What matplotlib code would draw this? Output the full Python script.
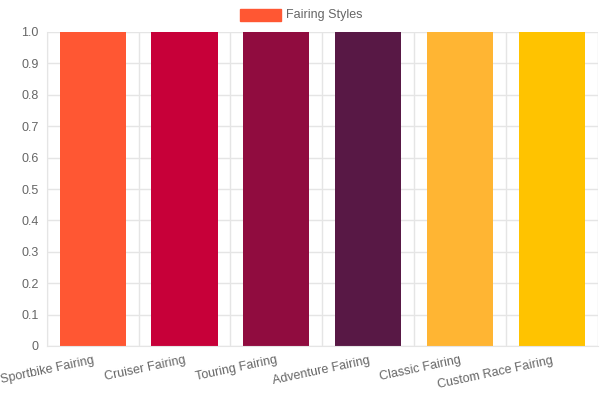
import matplotlib
matplotlib.use("Agg")
import matplotlib.pyplot as plt

categories = ["Sportbike Fairing", "Cruiser Fairing", "Touring Fairing", "Adventure Fairing", "Classic Fairing", "Custom Race Fairing"]
values = [1, 1, 1, 1, 1, 1]
colors = ["#FF5733", "#C70039", "#900C3F", "#581845", "#FFB533", "#FFC300"]
yticks = [0, 0.1, 0.2, 0.3, 0.4, 0.5, 0.6, 0.7, 0.8, 0.9, 1.0]
yticklabels = ["0", "0.1", "0.2", "0.3", "0.4", "0.5", "0.6", "0.7", "0.8", "0.9", "1.0"]

plt.rcParams['font.family'] = ['Liberation Sans', 'DejaVu Sans']
fig = plt.figure(figsize=(6, 4), dpi=100)
ax = fig.add_axes([0.078, 0.135, 0.918, 0.785])
x = range(len(categories))
ax.bar(x, values, width=0.72, color=colors)
ax.set_xlim(-0.5, len(categories) - 0.5)
ax.set_ylim(0, 1.0)
ax.set_yticks(yticks)
ax.set_yticklabels(yticklabels, fontsize=9, color="#666666")
ax.set_xticks(list(x))
ax.set_xticklabels(categories, rotation=12, ha="right", fontsize=9, color="#666666", rotation_mode="anchor")
ax.set_xticks([i + 0.5 for i in range(-1, len(categories))], minor=True)
ax.grid(True, which="minor", axis="x", color="#e5e5e5", lw=1)
ax.grid(True, which="major", axis="y", color="#e5e5e5", lw=1)
ax.tick_params(which="both", length=0, pad=6)
ax.tick_params(axis="x", which="major", length=0)
ax.set_axisbelow(True)
for s in ax.spines.values():
    s.set_color("#e5e5e5")
ax.spines["top"].set_visible(False)
ax.spines["right"].set_visible(False)
fig.patches.append(plt.Rectangle((0.4, 0.947), 0.068, 0.03, transform=fig.transFigure, color="#FF5733"))
fig.text(0.477, 0.962, "Fairing Styles", fontsize=9, color="#666666", va="center")
fig.savefig("out.png")
